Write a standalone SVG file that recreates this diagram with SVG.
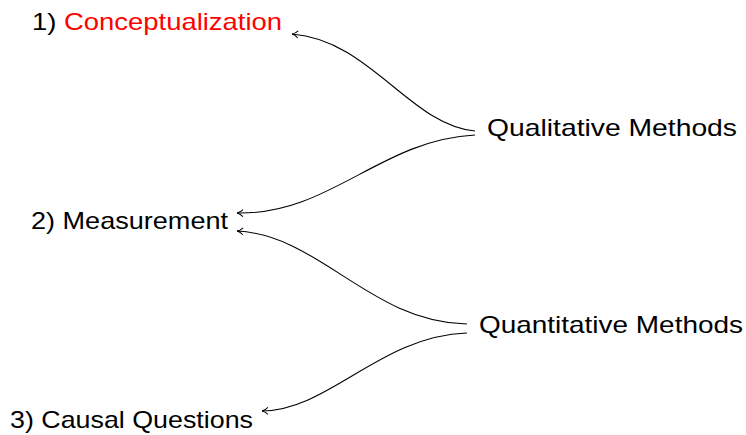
<svg xmlns="http://www.w3.org/2000/svg" width="746" height="435" viewBox="0 0 746 435">
<style>
text{font-family:"Liberation Sans","DejaVu Sans",sans-serif;font-size:24px;fill:#000}
.red{fill:#ff0000}
.c{fill:none;stroke:#000;stroke-width:1.1}
</style>
<defs>
<marker id="to" markerWidth="10" markerHeight="10" refX="7" refY="5" orient="auto" markerUnits="userSpaceOnUse">
<path d="M1,1.5 Q4,4.5 7,5 Q4,5.5 1,8.5" fill="none" stroke="#000" stroke-width="1"/>
</marker>
</defs>
<rect width="746" height="435" fill="#fff"/>
<g id="conceptualization"><text x="32" y="30" textLength="250" lengthAdjust="spacingAndGlyphs">1) <tspan class="red">Conceptualization</tspan></text></g>
<g id="measurement"><text x="31" y="229" textLength="197" lengthAdjust="spacingAndGlyphs">2) Measurement</text></g>
<g id="causal"><text x="10" y="428" textLength="243" lengthAdjust="spacingAndGlyphs">3) Causal Questions</text></g>
<g id="qualitative"><text x="487" y="136" textLength="250" lengthAdjust="spacingAndGlyphs">Qualitative Methods</text></g>
<g id="quantitative"><text x="479" y="333" textLength="264" lengthAdjust="spacingAndGlyphs">Quantitative Methods</text></g>
<g id="connectors">
<path class="c" marker-end="url(#to)" d="M475,131 C410,125 370,40 292,34"/>
<path class="c" marker-end="url(#to)" d="M475,135 C380,140 330,215 237,213"/>
<path class="c" marker-end="url(#to)" d="M467,324 C370,322 320,235 237,231"/>
<path class="c" marker-end="url(#to)" d="M467,333 C380,336 330,410 262,411"/>
</g>
</svg>
